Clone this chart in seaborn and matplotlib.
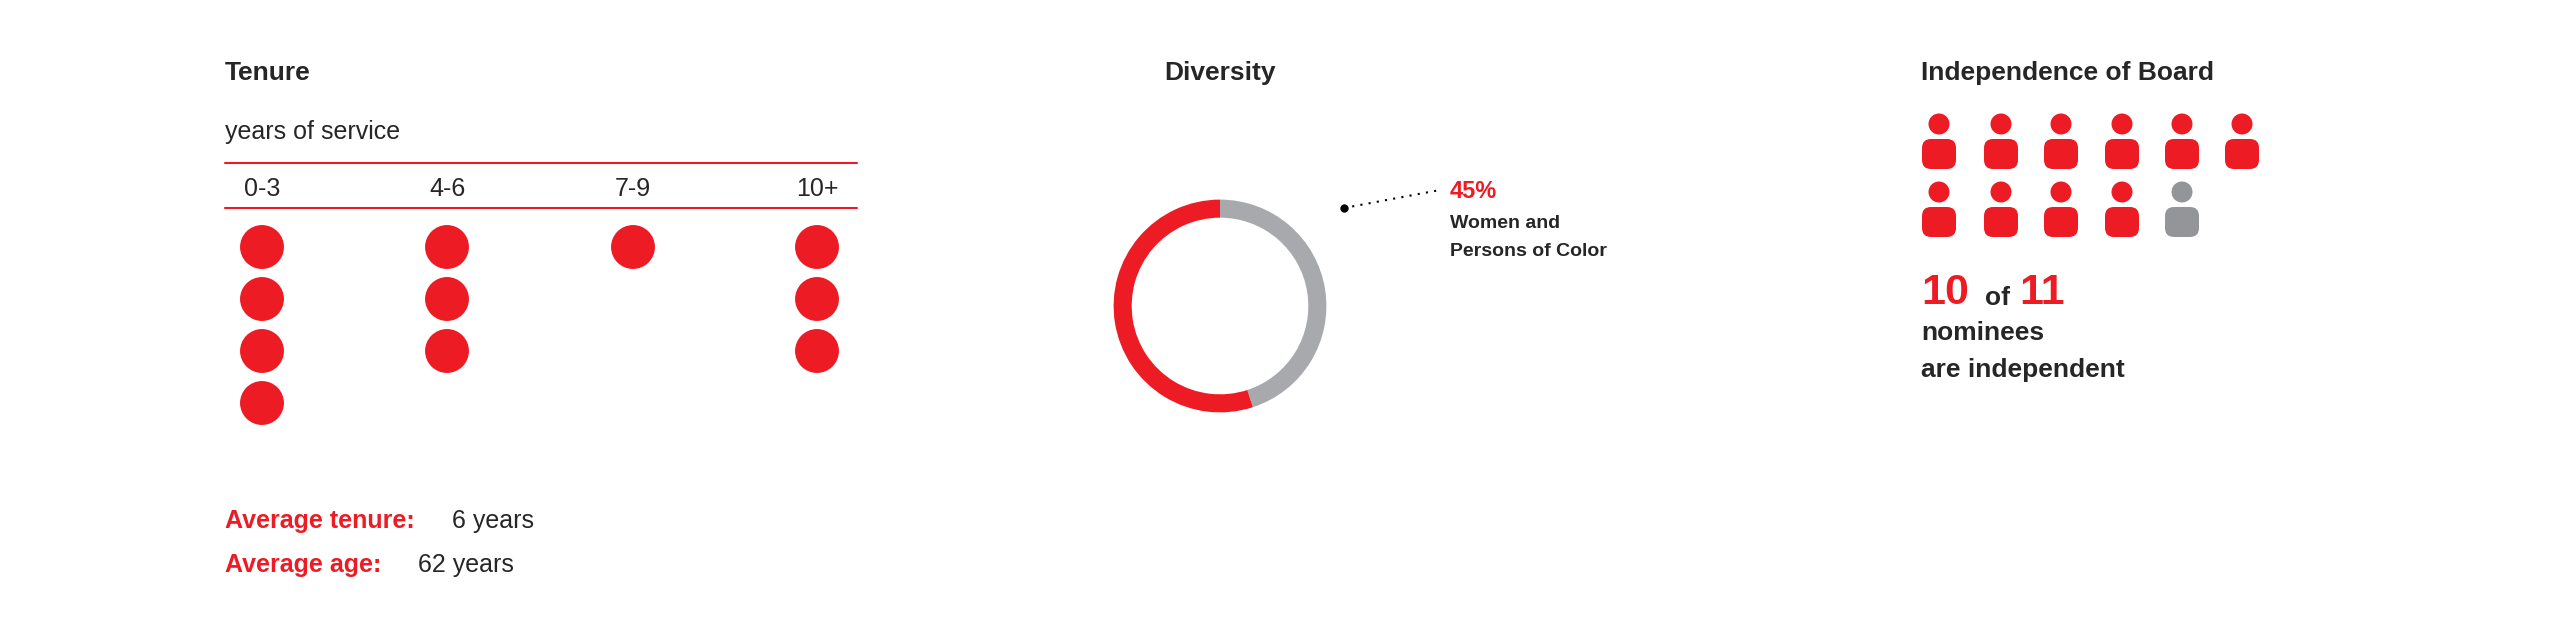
import pandas as pd
import matplotlib
matplotlib.use("Agg")
import matplotlib.pyplot as plt
import seaborn as sns
from matplotlib.patches import Circle, FancyBboxPatch

RED = "#ED1C24"
GRAY = "#A7A9AC"
ICON_GRAY = "#939598"

# data
tenure_bins = ["0-3", "4-6", "7-9", "10+"]
tenure_counts = [4, 3, 1, 3]
avg_tenure = 6
avg_age = 62
diversity_pct = 45
independent = 10
nominees = 11

sns.set_theme(style="white")
plt.rcParams["font.family"] = ["Liberation Sans", "DejaVu Sans"]

fig = plt.figure(figsize=(25.51, 6.18), dpi=100)
ax = fig.add_axes([0, 0, 1, 1])
ax.set_xlim(0, 2551)
ax.set_ylim(618, 0)
ax.axis("off")

# ---- Tenure ----
ax.text(225, 73, "Tenure", fontsize=19, fontweight="bold", va="center")
ax.text(225, 132, "years of service", fontsize=18, va="center")
ax.plot([225, 857], [163, 163], color=RED, lw=1.5)
ax.plot([225, 857], [208, 208], color=RED, lw=1.5)

bin_x = [262, 447, 633, 817]
for x, lab in zip(bin_x, tenure_bins):
    ax.text(x, 189, lab, fontsize=18, ha="center", va="center")

rows = []
for x, n in zip(bin_x, tenure_counts):
    for i in range(n):
        rows.append({"x": x, "y": 247 + 52 * i})
dots = pd.DataFrame(rows)
sns.scatterplot(data=dots, x="x", y="y", ax=ax, s=1000, color=RED,
                edgecolor="none", legend=False)

ax.text(225, 521, "Average tenure:", fontsize=18, fontweight="bold",
        color=RED, va="center")
ax.text(452, 521, f"{avg_tenure} years", fontsize=18, va="center")
ax.text(225, 565, "Average age:", fontsize=18, fontweight="bold",
        color=RED, va="center")
ax.text(418, 565, f"{avg_age} years", fontsize=18, va="center")

# ---- Diversity ----
ax.text(1220, 73, "Diversity", fontsize=19, fontweight="bold",
        ha="center", va="center")
pax = fig.add_axes([1087 / 2551, (618 - 439) / 618, 266 / 2551, 266 / 618])
pax.pie([diversity_pct, 100 - diversity_pct], colors=[GRAY, RED],
        startangle=90, counterclock=False,
        wedgeprops=dict(width=0.17, edgecolor="none"))
pax.set_aspect("equal")

ax.plot([1344, 1440], [208, 190], color="black", lw=1.5, ls=(0, (1, 3)))
ax.scatter([1344], [208], s=25, color="black", zorder=5)
ax.text(1450, 192, f"{diversity_pct}%", fontsize=17, fontweight="bold",
        color=RED, va="center")
ax.text(1450, 223, "Women and", fontsize=14, fontweight="bold", va="center")
ax.text(1450, 252, "Persons of Color", fontsize=14, fontweight="bold", va="center")

# ---- Independence ----
ax.text(1921, 73, "Independence of Board", fontsize=19, fontweight="bold",
        va="center")
icon_x = [1939, 2001, 2061, 2122, 2182, 2242]
for k in range(nominees):
    cx = icon_x[k % 6]
    top = 0 if k < 6 else 68
    col = RED if k < independent else ICON_GRAY
    ax.add_patch(Circle((cx, 124 + top), 10.5, color=col, lw=0))
    ax.add_patch(FancyBboxPatch((cx - 17, 139 + top), 34, 30,
                                boxstyle="round,pad=0,rounding_size=9",
                                color=col, lw=0))

ax.text(1921, 293, str(independent), fontsize=31, fontweight="bold",
        color=RED, va="center")
ax.text(1985, 298, "of", fontsize=19, fontweight="bold", va="center")
ax.text(2019, 293, str(nominees), fontsize=31, fontweight="bold",
        color=RED, va="center")
ax.text(1921, 333, "nominees", fontsize=19, fontweight="bold", va="center")
ax.text(1921, 370, "are independent", fontsize=19, fontweight="bold", va="center")

fig.savefig("out.png", dpi=100, facecolor="white")
